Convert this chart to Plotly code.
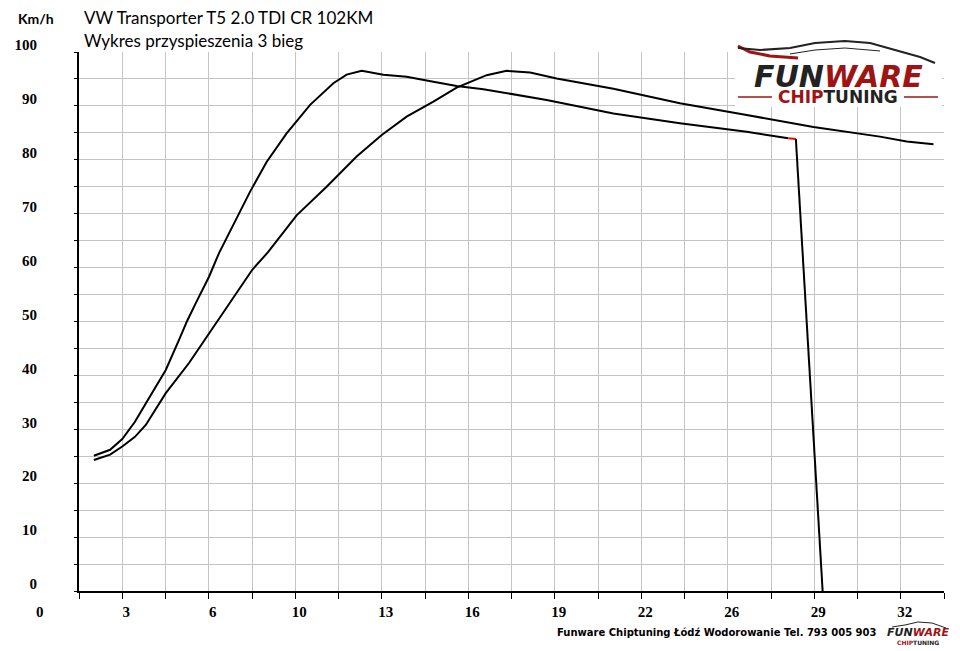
import plotly.graph_objects as go

# krzywa 1 (szybsza) - czas [s], predkosc [km/h]
czas_a = [2.15, 2.75, 3.20, 3.67, 4.07, 4.41, 4.81, 5.30, 5.60, 5.92, 6.19, 6.41, 6.78, 7.21,
          7.93, 8.54, 9.28, 10.15, 11.01, 11.50, 12.06, 12.86, 13.72, 14.71, 15.57, 16.56,
          17.55, 18.90, 21.37, 23.83, 26.30, 27.84]
kmh_a = [25.1, 26.2, 28.2, 31.4, 34.8, 37.7, 41.0, 46.6, 50.1, 53.4, 56.1, 58.3, 62.7, 67.0,
         74.1, 79.6, 84.9, 90.2, 94.2, 95.8, 96.5, 95.8, 95.4, 94.5, 93.7, 93.1,
         92.2, 91.1, 88.6, 86.8, 85.2, 84.0]

# koncowka krzywej 1 (czerwony odcinek i spadek)
czas_a_red = [27.84, 28.12]
kmh_a_red = [84.0, 83.85]
czas_a_drop = [28.12, 29.11]
kmh_a_drop = [83.85, 0.0]

# krzywa 2
czas_b = [2.15, 2.75, 3.20, 3.67, 4.07, 4.41, 4.81, 5.67, 6.41, 7.27, 8.01, 8.60, 9.00, 9.65,
          10.76, 11.87, 12.80, 13.72, 14.71, 15.57, 16.68, 17.42, 18.29, 19.27, 21.37,
          23.83, 26.30, 28.77, 31.23, 32.22, 33.21]
kmh_b = [24.3, 25.3, 26.8, 28.6, 30.8, 33.4, 36.7, 42.3, 47.8, 54.0, 59.6, 62.9, 65.5, 69.7,
         75.0, 80.6, 84.6, 88.0, 90.8, 93.4, 95.7, 96.5, 96.2, 95.1, 93.2,
         90.5, 88.3, 86.1, 84.3, 83.4, 82.9]

x_tick_vals = [3.2, 6.4, 9.6, 12.8, 16.0, 19.2, 22.4, 25.6, 28.8, 32.0]
x_tick_text = ["3", "6", "10", "13", "16", "19", "22", "26", "29", "32"]
y_tick_vals = [0, 10, 20, 30, 40, 50, 60, 70, 80, 90, 100]

title_lines = ["VW Transporter T5 2.0 TDI CR 102KM", "Wykres przyspieszenia 3 bieg"]
footer = "Funware Chiptuning Łódź Wodorowanie Tel. 793 005 903"

# strona ma 8px marginesu body, wiec wykres jest o 8px mniejszy i przesuniety
OFF = 8
W, H = 960 - OFF, 651 - OFF
L, R, T, B = 79, 944, 52, 591  # obszar wykresu w pikselach okna
GRID = "#c4c4c4"
RED = "#9e1414"
TICKFONT = dict(family="Liberation Serif", size=15, color="black", weight="bold")


def px_x(px):
    return (px - L) / (R - L)


def px_y(py):
    return (B - py) / (B - T)


fig = go.Figure()
fig.add_trace(go.Scatter(x=czas_a, y=kmh_a, mode="lines", line=dict(color="black", width=2)))
fig.add_trace(go.Scatter(x=czas_a_red, y=kmh_a_red, mode="lines", line=dict(color="red", width=2)))
fig.add_trace(go.Scatter(x=czas_a_drop, y=kmh_a_drop, mode="lines", line=dict(color="black", width=2)))
fig.add_trace(go.Scatter(x=czas_b, y=kmh_b, mode="lines", line=dict(color="black", width=2)))

fig.update_xaxes(
    range=[1.6, 33.6], tickmode="array", tickvals=x_tick_vals, ticktext=x_tick_text,
    showgrid=True, gridcolor=GRID, gridwidth=1,
    ticks="outside", ticklen=6, tickcolor="black", tickwidth=1,
    minor=dict(dtick=1.6, tick0=0, showgrid=True, gridcolor=GRID, gridwidth=1,
               ticks="outside", ticklen=6, tickcolor="black"),
    showline=True, linecolor="black", linewidth=2, zeroline=False, automargin=False,
    tickfont=TICKFONT, ticklabelshift=4, ticklabelstandoff=0,
)
fig.update_yaxes(
    range=[0, 100], tickmode="array", tickvals=y_tick_vals,
    showgrid=True, gridcolor=GRID, gridwidth=1,
    ticks="outside", ticklen=3, tickcolor="black",
    minor=dict(dtick=5, showgrid=True, gridcolor=GRID, gridwidth=1,
               ticks="outside", ticklen=3, tickcolor="black"),
    showline=True, linecolor="black", linewidth=2, zeroline=False, automargin=False,
    tickfont=TICKFONT, ticklabelshift=-7, ticklabelstandoff=34,
)

ann = []
ann.append(dict(text="<b>Km/h</b>", x=px_x(16), y=px_y(18), xanchor="left", yanchor="middle",
                font=dict(family="Lato", size=14, color="black")))
for i, line in enumerate(title_lines):
    ann.append(dict(text=line, x=px_x(82), y=px_y(17 + 23 * i), xanchor="left", yanchor="middle",
                    font=dict(family="Lato", size=17, color="black")))
ann.append(dict(text="0", x=px_x(40), y=px_y(612), xanchor="center", yanchor="middle",
                font=TICKFONT))
ann.append(dict(text="<b>" + footer + "</b>", x=px_x(879), y=px_y(632), xanchor="right",
                yanchor="middle", font=dict(family="DejaVu Sans", size=10, color="black")))
# logo
ann.append(dict(text="<b><i>FUN<span style='color:%s'>WARE</span></i></b>" % RED,
                x=px_x(838), y=px_y(76), xanchor="center", yanchor="middle",
                font=dict(family="DejaVu Sans", size=30, color="#222222")))
ann.append(dict(text="<b><span style='color:%s'>CHIP</span>TUNING</b>" % RED,
                x=px_x(838), y=px_y(97), xanchor="center", yanchor="middle",
                font=dict(family="DejaVu Sans", size=17, color="#222222")))
ann.append(dict(text="<b><i>FUN<span style='color:%s'>WARE</span></i></b>" % RED,
                x=px_x(918), y=px_y(632), xanchor="center", yanchor="middle",
                font=dict(family="DejaVu Sans", size=11, color="#222222")))
ann.append(dict(text="<b><span style='color:%s'>CHIP</span>TUNING</b>" % RED,
                x=px_x(918), y=px_y(642), xanchor="center", yanchor="middle",
                font=dict(family="DejaVu Sans", size=6, color="#222222")))
for a in ann:
    a.update(xref="paper", yref="paper", showarrow=False)


def path(points):
    return "M " + " L ".join("%.4f,%.4f" % (px_x(a), px_y(b)) for a, b in points)


shapes = [
    dict(type="rect", x0=px_x(735), x1=px_x(942), y0=px_y(38), y1=px_y(107),
         fillcolor="white", line=dict(width=0), layer="above"),
    # sylwetka auta w logo
    dict(type="path", path=path([(738, 46), (750, 52), (770, 56), (798, 58)]),
         line=dict(color=RED, width=3), layer="above"),
    dict(type="path", path=path([(738, 48), (760, 50), (790, 48), (815, 43), (845, 41),
                                 (870, 43), (895, 50), (920, 57), (935, 63)]),
         line=dict(color="#222222", width=2), layer="above"),
    dict(type="path", path=path([(790, 54), (815, 50), (845, 48), (880, 51)]),
         line=dict(color="#222222", width=1), layer="above"),
    dict(type="line", x0=px_x(738), x1=px_x(772), y0=px_y(97), y1=px_y(97),
         line=dict(color=RED, width=1.5), layer="above"),
    dict(type="line", x0=px_x(904), x1=px_x(938), y0=px_y(97), y1=px_y(97),
         line=dict(color=RED, width=1.5), layer="above"),
    dict(type="path", path=path([(892, 627), (905, 625), (918, 622), (932, 623), (946, 628)]),
         line=dict(color="#222222", width=1), layer="above"),
]
for s in shapes:
    s.update(xref="paper", yref="paper")

fig.update_layout(
    width=W, height=H,
    margin=dict(l=L - OFF, r=960 - R, t=T - OFF, b=651 - B),
    paper_bgcolor="white", plot_bgcolor="white", showlegend=False,
    annotations=ann, shapes=shapes,
)

fig.write_html("out.html")
